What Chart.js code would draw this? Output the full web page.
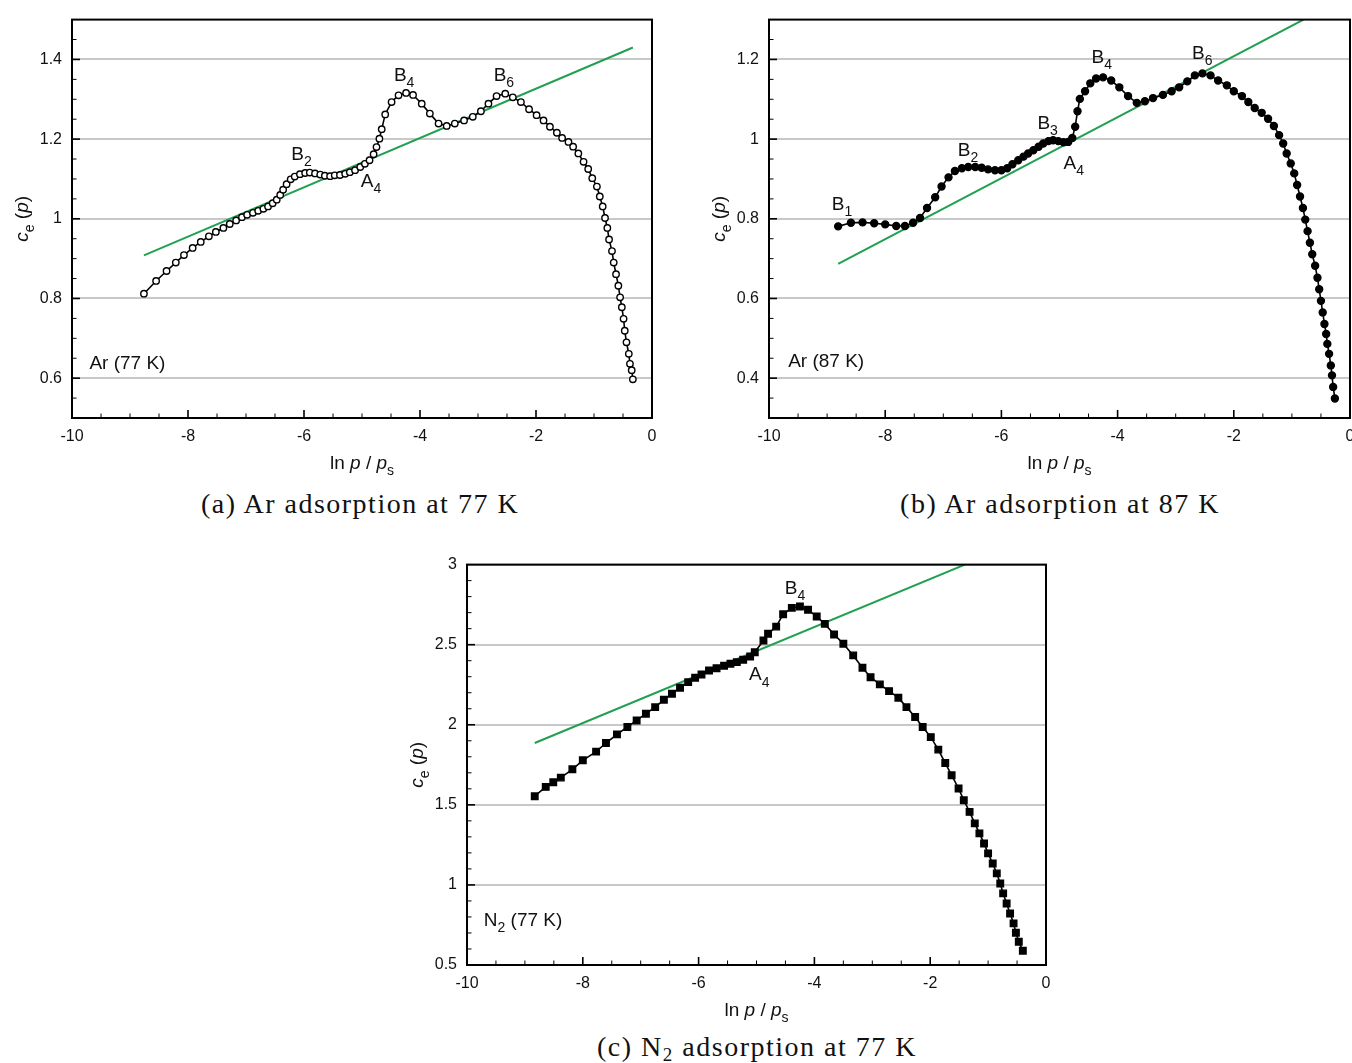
<!DOCTYPE html>
<html>
<head>
<meta charset="utf-8">
<script src="https://cdn.jsdelivr.net/npm/chart.js@4.4.1/dist/chart.umd.min.js"></script>
<style>
  body { margin: 0; background: #fff; width: 1352px; height: 1063px; position: relative; overflow: hidden; }
  canvas { position: absolute; }
  .cap { position: absolute; width: 720px; text-align: center; font-family: "Liberation Serif", serif;
         font-size: 28px; letter-spacing: 1.5px; line-height: 32px; color: #111; }
  .cap sub { font-size: 19px; vertical-align: -5px; line-height: 0; }
</style>
</head>
<body>
<canvas id="chartA" width="690" height="480" style="left:0px;top:0px"></canvas>
<canvas id="chartB" width="680" height="480" style="left:690px;top:0px"></canvas>
<canvas id="chartC" width="680" height="480" style="left:395px;top:545px"></canvas>
<div class="cap" style="left:0px;top:488px">(a) Ar adsorption at 77 K</div>
<div class="cap" style="left:700px;top:488px">(b) Ar adsorption at 87 K</div>
<div class="cap" style="left:397px;top:1031px">(c) N<sub>2</sub> adsorption at 77 K</div>
<script>
// ---- Ar at 77 K ----
const lnpA = [-8.76, -8.55, -8.37, -8.21, -8.07, -7.92, -7.78, -7.64, -7.52, -7.39, -7.28, -7.17, -7.07, -6.98, -6.88,
  -6.79, -6.70, -6.62, -6.54, -6.47, -6.41, -6.36, -6.30, -6.23, -6.16, -6.07, -5.98, -5.90, -5.81, -5.72, -5.64, -5.55,
  -5.47, -5.38, -5.29, -5.21, -5.12, -5.03, -4.95, -4.87, -4.80, -4.75, -4.70, -4.66, -4.60, -4.49, -4.37, -4.24, -4.12,
  -3.97, -3.83, -3.68, -3.54, -3.40, -3.24, -3.09, -2.95, -2.82, -2.68, -2.53, -2.40, -2.26, -2.12, -1.99, -1.87, -1.76,
  -1.64, -1.55, -1.44, -1.36, -1.27, -1.18, -1.10, -1.03, -0.95, -0.90, -0.85, -0.81, -0.77, -0.74, -0.69, -0.66, -0.62,
  -0.58, -0.55, -0.52, -0.49, -0.47, -0.44, -0.40, -0.38, -0.35, -0.33];
const ceA = [0.812, 0.844, 0.869, 0.890, 0.909, 0.927, 0.942, 0.956, 0.967, 0.977, 0.987, 0.996, 1.004, 1.010, 1.015,
  1.020, 1.025, 1.031, 1.039, 1.048, 1.060, 1.073, 1.087, 1.099, 1.106, 1.112, 1.115, 1.116, 1.114, 1.111, 1.108, 1.107,
  1.109, 1.110, 1.113, 1.117, 1.122, 1.130, 1.138, 1.147, 1.162, 1.180, 1.201, 1.225, 1.262, 1.293, 1.310, 1.316, 1.311,
  1.289, 1.264, 1.239, 1.233, 1.239, 1.247, 1.256, 1.270, 1.289, 1.308, 1.314, 1.305, 1.293, 1.275, 1.260, 1.247, 1.231,
  1.216, 1.203, 1.193, 1.181, 1.164, 1.143, 1.125, 1.102, 1.081, 1.056, 1.031, 1.002, 0.977, 0.948, 0.919, 0.890, 0.861,
  0.832, 0.803, 0.778, 0.749, 0.719, 0.690, 0.661, 0.636, 0.620, 0.597];
const fitLnpA = [-8.76, -0.33];
const fitCeA = [0.908, 1.430];

// ---- Ar at 87 K ----
const lnpB = [-8.81, -8.59, -8.39, -8.19, -8.00, -7.81, -7.66, -7.52, -7.40, -7.28, -7.14, -7.03, -6.91, -6.80, -6.68,
  -6.57, -6.45, -6.34, -6.23, -6.11, -6.00, -5.90, -5.81, -5.71, -5.62, -5.54, -5.45, -5.36, -5.28, -5.19, -5.11, -5.02,
  -4.93, -4.85, -4.78, -4.73, -4.69, -4.65, -4.56, -4.47, -4.37, -4.25, -4.11, -3.97, -3.82, -3.67, -3.53, -3.39, -3.22,
  -3.07, -2.94, -2.80, -2.67, -2.54, -2.40, -2.27, -2.12, -2.00, -1.86, -1.75, -1.64, -1.52, -1.41, -1.31, -1.22, -1.15,
  -1.09, -1.02, -0.96, -0.91, -0.86, -0.81, -0.77, -0.73, -0.69, -0.65, -0.60, -0.56, -0.53, -0.50, -0.47, -0.44, -0.41,
  -0.39, -0.36, -0.33, -0.31, -0.29, -0.26];
const ceB = [0.781, 0.790, 0.791, 0.789, 0.786, 0.782, 0.782, 0.790, 0.802, 0.827, 0.854, 0.881, 0.904, 0.920, 0.927,
  0.930, 0.930, 0.928, 0.924, 0.922, 0.922, 0.927, 0.937, 0.947, 0.956, 0.964, 0.972, 0.981, 0.989, 0.995, 0.997, 0.995,
  0.992, 0.993, 1.003, 1.031, 1.070, 1.101, 1.120, 1.140, 1.152, 1.155, 1.147, 1.130, 1.108, 1.091, 1.095, 1.103, 1.111,
  1.120, 1.130, 1.145, 1.160, 1.165, 1.160, 1.147, 1.135, 1.120, 1.108, 1.093, 1.078, 1.066, 1.051, 1.033, 1.010, 0.989,
  0.964, 0.939, 0.914, 0.885, 0.856, 0.827, 0.798, 0.769, 0.740, 0.711, 0.682, 0.652, 0.623, 0.594, 0.565, 0.536, 0.511,
  0.486, 0.461, 0.432, 0.407, 0.378, 0.349];
const fitLnpB = [-8.81, -0.80];
const fitCeB = [0.687, 1.300];

// ---- N2 at 77 K ----
const lnpC = [-8.83, -8.64, -8.51, -8.38, -8.18, -8.00, -7.77, -7.60, -7.41, -7.23, -7.07, -6.91, -6.75, -6.60, -6.46,
  -6.32, -6.18, -6.06, -5.95, -5.82, -5.69, -5.56, -5.45, -5.34, -5.23, -5.11, -5.03, -4.88, -4.80, -4.66, -4.54, -4.39,
  -4.25, -4.11, -3.96, -3.82, -3.66, -3.50, -3.33, -3.17, -3.03, -2.87, -2.71, -2.55, -2.41, -2.26, -2.13, -1.99, -1.86,
  -1.74, -1.63, -1.51, -1.42, -1.32, -1.23, -1.15, -1.07, -1.00, -0.92, -0.85, -0.79, -0.74, -0.68, -0.62, -0.56, -0.52,
  -0.47, -0.40];
const ceC = [1.554, 1.612, 1.641, 1.670, 1.722, 1.778, 1.832, 1.886, 1.940, 1.986, 2.027, 2.069, 2.110, 2.156, 2.194,
  2.231, 2.266, 2.294, 2.314, 2.339, 2.353, 2.368, 2.381, 2.391, 2.406, 2.426, 2.453, 2.526, 2.568, 2.613, 2.690, 2.730,
  2.738, 2.718, 2.676, 2.630, 2.564, 2.506, 2.433, 2.356, 2.297, 2.252, 2.210, 2.169, 2.110, 2.048, 1.986, 1.923, 1.845,
  1.761, 1.685, 1.602, 1.529, 1.456, 1.384, 1.322, 1.259, 1.197, 1.134, 1.072, 1.009, 0.947, 0.884, 0.822, 0.760, 0.701,
  0.645, 0.589];
const fitLnpC = [-8.83, -1.40];
const fitCeC = [1.886, 3.000];

// ---- ticks ----
const xTicks = [-10, -8, -6, -4, -2, 0];
const xTickLabels = ["-10", "-8", "-6", "-4", "-2", "0"];
const yTicksA = [0.6, 0.8, 1, 1.2, 1.4];
const yTickLabelsA = ["0.6", "0.8", "1", "1.2", "1.4"];
const yTicksB = [0.4, 0.6, 0.8, 1, 1.2];
const yTickLabelsB = ["0.4", "0.6", "0.8", "1", "1.2"];
const yTicksC = [0.5, 1, 1.5, 2, 2.5, 3];
const yTickLabelsC = ["0.5", "1", "1.5", "2", "2.5", "3"];

const SANS = '"Liberation Sans", Arial, Helvetica, sans-serif';
Chart.defaults.font.family = SANS;

// text with italic / subscript runs
function richText(ctx, runs, x, y, size, align) {
    const fontOf = (s) => (s === "i" ? "italic " : "") + (s === "sub" ? Math.round(size * 0.72) : size) + "px " + SANS;
    let w = 0;
    runs.forEach(r => { ctx.font = fontOf(r[1]); w += ctx.measureText(r[0]).width; });
    let cx = align === "center" ? x - w / 2 : x;
    ctx.textAlign = "left";
    ctx.textBaseline = "alphabetic";
    runs.forEach(r => {
        ctx.font = fontOf(r[1]);
        ctx.fillText(r[0], cx, r[1] === "sub" ? y + size * 0.33 : y);
        cx += ctx.measureText(r[0]).width;
    });
}

const xTitle = [["ln ", ""], ["p", "i"], [" / ", ""], ["p", "i"], ["s", "sub"]];
const yTitle = [["c", "i"], ["e", "sub"], [" (", ""], ["p", "i"], [")", ""]];

// per-chart extras: minor tick steps and text notes (placed in data units)
const extras = {
    chartA: { yStep: 0.05, yTicks: yTicksA, notes: [
        { x: -6.22, y: 1.148, runs: [["B", ""], ["2", "sub"]] },
        { x: -5.02, y: 1.081, runs: [["A", ""], ["4", "sub"]] },
        { x: -4.45, y: 1.347, runs: [["B", ""], ["4", "sub"]] },
        { x: -2.73, y: 1.347, runs: [["B", ""], ["6", "sub"]] },
        { x: -9.70, y: 0.624, runs: [["Ar (77 K)", ""]] }
    ]},
    chartB: { yStep: 0.05, yTicks: yTicksB, notes: [
        { x: -8.92, y: 0.823, runs: [["B", ""], ["1", "sub"]] },
        { x: -6.75, y: 0.958, runs: [["B", ""], ["2", "sub"]] },
        { x: -5.38, y: 1.026, runs: [["B", ""], ["3", "sub"]] },
        { x: -4.93, y: 0.925, runs: [["A", ""], ["4", "sub"]] },
        { x: -4.45, y: 1.191, runs: [["B", ""], ["4", "sub"]] },
        { x: -2.72, y: 1.201, runs: [["B", ""], ["6", "sub"]] },
        { x: -9.67, y: 0.427, runs: [["Ar (87 K)", ""]] }
    ]},
    chartC: { yStep: 0.1, yTicks: yTicksC, notes: [
        { x: -4.51, y: 2.817, runs: [["B", ""], ["4", "sub"]] },
        { x: -5.13, y: 2.277, runs: [["A", ""], ["4", "sub"]] },
        { x: -9.71, y: 0.743, runs: [["N", ""], ["2", "sub"], [" (77 K)", ""]] }
    ]}
};

const framePlugin = {
    id: "frame",
    afterDraw(chart) {
        const ex = extras[chart.canvas.id];
        const ctx = chart.ctx, a = chart.chartArea;
        const sx = chart.scales.x, sy = chart.scales.y;
        ctx.save();
        ctx.strokeStyle = "#000";
        // inward ticks, bottom
        for (let i = 1; i < 20; i++) {
            const v = -10 + i * 0.5;
            const major = i % 4 === 0;
            const px = sx.getPixelForValue(v);
            ctx.lineWidth = major ? 1.6 : 1;
            ctx.beginPath();
            ctx.moveTo(px, a.bottom);
            ctx.lineTo(px, a.bottom - (major ? 8 : 4.5));
            ctx.stroke();
        }
        // inward ticks, left
        const n = Math.round((sy.max - sy.min) / ex.yStep);
        for (let i = 1; i < n; i++) {
            const v = sy.min + i * ex.yStep;
            const major = ex.yTicks.some(t => Math.abs(t - v) < 1e-6);
            const py = sy.getPixelForValue(v);
            ctx.lineWidth = major ? 1.6 : 1;
            ctx.beginPath();
            ctx.moveTo(a.left, py);
            ctx.lineTo(a.left + (major ? 8 : 4.5), py);
            ctx.stroke();
        }
        // box
        ctx.lineWidth = 2;
        ctx.strokeRect(a.left, a.top, a.right - a.left, a.bottom - a.top);
        // notes
        ctx.fillStyle = "#111";
        ex.notes.forEach(nt => richText(ctx, nt.runs, sx.getPixelForValue(nt.x), sy.getPixelForValue(nt.y), 19, "left"));
        // axis titles
        richText(ctx, xTitle, (a.left + a.right) / 2, a.bottom + 51, 19, "center");
        ctx.translate(a.left - 50, (a.top + a.bottom) / 2);
        ctx.rotate(-Math.PI / 2);
        richText(ctx, yTitle, 0, 6, 19, "center");
        ctx.restore();
    }
};

function pts(xs, ys) {
    return xs.map((x, i) => ({ x: x, y: ys[i] }));
}

function makeChart(id, o) {
    const tickFont = { family: SANS, size: 16 };
    return new Chart(document.getElementById(id), {
        type: "scatter",
        data: {
            datasets: [{
                data: pts(o.x, o.y),
                showLine: true,
                borderColor: "#000",
                borderWidth: 1.6,
                pointStyle: o.pointStyle,
                pointRadius: o.radius,
                pointBackgroundColor: o.fill,
                pointBorderColor: "#000",
                pointBorderWidth: 1.4,
                order: 1
            }, {
                data: pts(o.fitX, o.fitY),
                showLine: true,
                borderColor: "#20a050",
                borderWidth: 2,
                pointRadius: 0,
                order: 2
            }]
        },
        options: {
            responsive: false,
            animation: false,
            layout: { padding: o.pad },
            plugins: { legend: { display: false }, tooltip: { enabled: false } },
            scales: {
                x: {
                    type: "linear", min: -10, max: 0,
                    afterBuildTicks: ax => { ax.ticks = xTicks.map(v => ({ value: v })); },
                    afterFit: ax => { ax.height = o.xH; },
                    grid: { display: false, drawTicks: false },
                    border: { display: false },
                    ticks: { padding: 9, color: "#111", font: tickFont, maxRotation: 0, autoSkip: false,
                             callback: (v, i) => xTickLabels[i] }
                },
                y: {
                    type: "linear", min: o.yMin, max: o.yMax,
                    afterBuildTicks: ax => { ax.ticks = o.yTicks.map(v => ({ value: v })); },
                    afterFit: ax => { ax.width = o.yW; },
                    grid: { color: "#c8c8c8", lineWidth: 2, drawTicks: false },
                    border: { display: false },
                    ticks: { padding: 10, color: "#111", font: tickFont, autoSkip: false,
                             callback: (v, i) => o.yLabels[i] }
                }
            }
        },
        plugins: [framePlugin]
    });
}

makeChart("chartA", {
    x: lnpA, y: ceA, fitX: fitLnpA, fitY: fitCeA,
    pointStyle: "circle", radius: 3.2, fill: "#fff",
    yMin: 0.5, yMax: 1.5, yTicks: yTicksA, yLabels: yTickLabelsA,
    pad: { top: 17, right: 38, left: 0, bottom: 0 }, yW: 72, xH: 62
});
makeChart("chartB", {
    x: lnpB, y: ceB, fitX: fitLnpB, fitY: fitCeB,
    pointStyle: "circle", radius: 3.5, fill: "#000",
    yMin: 0.3, yMax: 1.3, yTicks: yTicksB, yLabels: yTickLabelsB,
    pad: { top: 17, right: 20, left: 0, bottom: 0 }, yW: 79, xH: 62
});
makeChart("chartC", {
    x: lnpC, y: ceC, fitX: fitLnpC, fitY: fitCeC,
    pointStyle: "rect", radius: 4.6, fill: "#000",
    yMin: 0.5, yMax: 3, yTicks: yTicksC, yLabels: yTickLabelsC,
    pad: { top: 19, right: 29, left: 0, bottom: 0 }, yW: 72, xH: 60
});
</script>
</body>
</html>
